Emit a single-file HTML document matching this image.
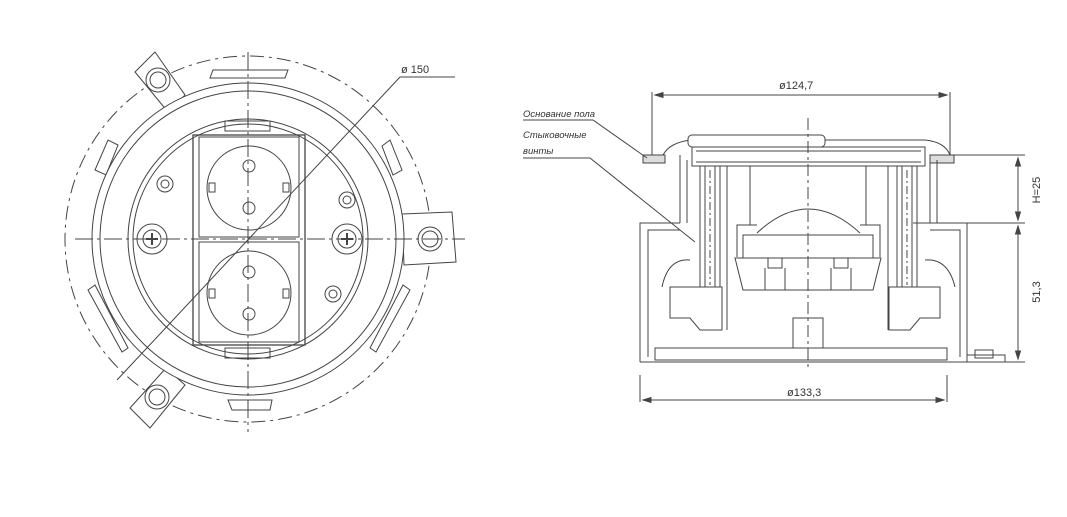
<!DOCTYPE html>
<html><head><meta charset="utf-8"><style>
html,body{margin:0;padding:0;background:#fff;}
svg{display:block}
text{font-family:"Liberation Sans","DejaVu Sans",sans-serif;fill:#333}
</style></head><body>
<svg width="1067" height="517" viewBox="0 0 1067 517" xmlns="http://www.w3.org/2000/svg">
<g fill="none" stroke="#444" stroke-width="1">
<!-- LEFT VIEW -->
<circle cx="248" cy="239" r="183" stroke-dasharray="14,5,3,5"/>
<path d="M135,72 L155,52 L185,95 L168,112 Z" fill="#fff"/>
<circle cx="158" cy="80" r="12"/><circle cx="158" cy="80" r="8"/>
<path d="M402,214 L452,212 L456,262 L404,265 Z" fill="#fff"/>
<circle cx="430" cy="239" r="12"/><circle cx="430" cy="239" r="8"/>
<path d="M130,408 L150,428 L185,385 L166,368 Z" fill="#fff"/>
<circle cx="157" cy="397" r="12"/><circle cx="157" cy="397" r="8"/>
<path d="M210,78 L285,78 L288,70 L213,70 Z"/>
<path d="M228,400 L272,400 L270,410 L232,410 Z"/>
<path d="M95,170 L108,140 L118,145 L106,175 Z"/>
<path d="M390,140 L402,170 L393,175 L382,146 Z"/>
<path d="M88,290 L122,352 L128,348 L95,285 Z"/>
<path d="M410,290 L376,352 L370,348 L403,285 Z"/>
<circle cx="248" cy="239" r="156" fill="#fff"/>
<circle cx="248" cy="239" r="148"/>
<circle cx="248" cy="239" r="120"/>
<circle cx="248" cy="239" r="115"/>
<rect x="225" y="121" width="45" height="10"/>
<rect x="225" y="348" width="45" height="10"/>
<rect x="193" y="135" width="112" height="210" stroke-width="1.3"/>
<rect x="199" y="137" width="100" height="100"/>
<rect x="199" y="242" width="100" height="100"/>
<circle cx="249" cy="188" r="42"/>
<circle cx="249" cy="293" r="42"/>
<circle cx="249" cy="166" r="6"/><circle cx="249" cy="208" r="6"/>
<circle cx="249" cy="272" r="6"/><circle cx="249" cy="314" r="6"/>
<rect x="209" y="183" width="6" height="9"/><rect x="283" y="183" width="6" height="9"/>
<rect x="209" y="289" width="6" height="9"/><rect x="283" y="289" width="6" height="9"/>
<circle cx="152" cy="239" r="15"/><circle cx="152" cy="239" r="9"/>
<circle cx="347" cy="239" r="15"/><circle cx="347" cy="239" r="9"/>
<path d="M146,239h12M152,233v12M341,239h12M347,233v12" stroke-width="2"/>
<circle cx="165" cy="184" r="8"/><circle cx="165" cy="184" r="4"/>
<circle cx="347" cy="200" r="8"/><circle cx="347" cy="200" r="4"/>
<circle cx="333" cy="294" r="8"/><circle cx="333" cy="294" r="4"/>
<path d="M75,239 H465" stroke-dasharray="18,4,3,4"/>
<path d="M248,52 V432" stroke-dasharray="18,4,3,4"/>
<path d="M117,380 L400,77 H455"/>
<!-- RIGHT VIEW -->
<path d="M652,92 V158 M950,92 V158"/>
<path d="M655,95 H947" /><path d="M655,95 l8,-2.5 v5z M947,95 l-8,-2.5 v5z" fill="#444"/>
<path d="M640,375 V402 M947,375 V402"/>
<path d="M643,400 H944"/><path d="M643,400 l8,-2.5 v5z M944,400 l-8,-2.5 v5z" fill="#444"/>
<path d="M947,155 H1025 M913,223 H1025 M960,362 H1025"/>
<path d="M1018,158 V220 M1018,226 V359"/>
<path d="M1018,158 l-2.5,8 h5z M1018,220 l-2.5,-8 h5z M1018,226 l-2.5,8 h5z M1018,359 l-2.5,-8 h5z" fill="#444"/>
<rect x="643" y="155" width="22" height="8" fill="#ddd"/>
<rect x="930" y="155" width="24" height="8" fill="#ddd"/>
<path d="M663,155 Q670,142 692,140 H925 Q945,142 950,155"/>
<rect x="688" y="135" width="137" height="12" rx="4" fill="#fff"/>
<rect x="692" y="147" width="233" height="19"/>
<path d="M696,151 H921 M696,162 H921"/>
<path d="M680,155 V223 M687,160 V223 M930,155 V223 M937,160 V223"/>
<path d="M700,166 V287 M705,166 V287 M715,166 V287 M720,166 V287"/>
<path d="M897,166 V287 M902,166 V287 M912,166 V287 M917,166 V287"/>
<path d="M727,166 V330 M888,166 V330"/>
<path d="M750,166 V225 M866,166 V225"/>
<path d="M737,257 V225 H757 M860,225 H880 V257"/>
<path d="M757,233 Q808,185 860,233"/>
<rect x="743" y="235" width="130" height="23"/>
<path d="M735,258 H881 L873,290 H743 Z"/>
<rect x="768" y="258" width="14" height="10"/><rect x="834" y="258" width="14" height="10"/>
<path d="M765,268 V290 M785,268 V290 M831,268 V290 M851,268 V290"/>
<path d="M670,287 H722 V330 H700 L690,318 H670 Z"/>
<path d="M889,287 H940 V318 H920 L910,330 H889 Z"/>
<path d="M662,287 Q668,258 690,260 M955,287 Q948,258 925,260"/>
<path d="M640,362 V223 H680 M937,223 H967 V362"/>
<path d="M640,362 H967"/>
<path d="M648,357 V230 H680 M930,230 H960 V357"/>
<rect x="655" y="348" width="292" height="12"/>
<rect x="793" y="318" width="30" height="30"/>
<rect x="975" y="350" width="18" height="8"/>
<path d="M967,355 H1005 V362 H967"/>
<path d="M808,118 V370" stroke-dasharray="12,4,3,4"/>
<path d="M710,170 V285 M907,170 V285" stroke-dasharray="8,3,2,3"/>
<path d="M523,120 H593 L647,158"/>
<path d="M523,158 H590 L695,242"/>
</g>
<text x="401" y="73" font-size="11">ø 150</text>
<text x="779" y="89" font-size="11">ø124,7</text>
<text x="787" y="396" font-size="11">ø133,3</text>
<text x="1040" y="190" font-size="11" transform="rotate(-90 1040 190)" text-anchor="middle">H=25</text>
<text x="1040" y="292" font-size="11" transform="rotate(-90 1040 292)" text-anchor="middle">51,3</text>
<text x="523" y="117" font-size="9.5" font-style="italic">Основание пола</text>
<text x="523" y="138" font-size="9.5" font-style="italic">Стыковочные</text>
<text x="523" y="154" font-size="9.5" font-style="italic">винты</text>
</svg>
</body></html>
